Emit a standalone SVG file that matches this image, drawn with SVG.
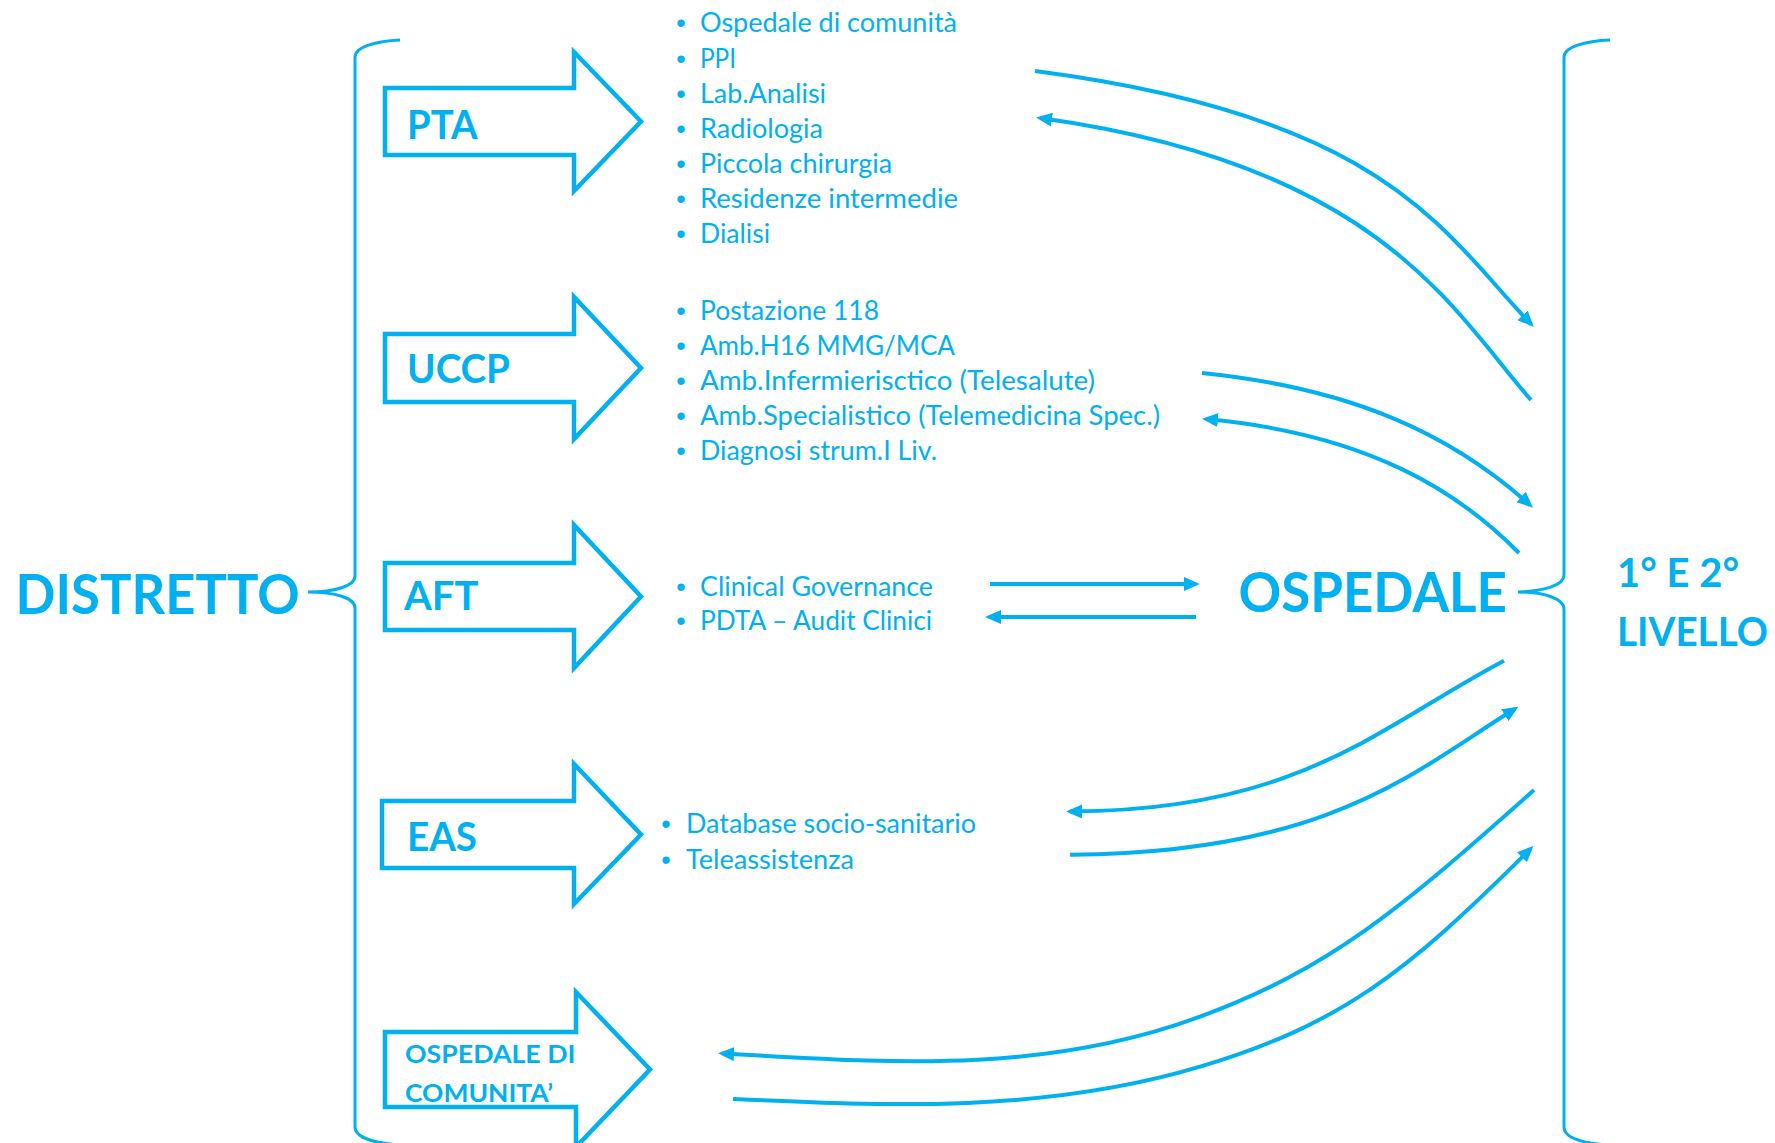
<svg xmlns="http://www.w3.org/2000/svg" width="1775" height="1143" viewBox="0 0 1775 1143">
<style>
.ar{fill:none;stroke:#00B0F0;stroke-width:4.5;stroke-linejoin:miter;stroke-miterlimit:10}
.br{fill:none;stroke:#00B0F0;stroke-width:3}
.c{fill:none;stroke:#00B0F0;stroke-width:4}
.h{font-family:Lato,'Open Sans','Liberation Sans',sans-serif;font-weight:700;fill:#00B0F0}
.t{font-family:Lato,'Open Sans','Liberation Sans',sans-serif;font-size:27px;fill:#00B0F0}
.bu{font-family:'Liberation Sans',Arial,sans-serif;font-size:27px;fill:#00B0F0;text-anchor:middle}
</style>
<defs>
<marker id="ah" viewBox="0 0 16 14" refX="12" refY="7" markerWidth="16" markerHeight="14" markerUnits="userSpaceOnUse" orient="auto-start-reverse">
<path d="M0,0 L16,7 L0,14 z" fill="#00B0F0"/>
</marker>
</defs>
<rect width="1775" height="1143" fill="#FFFFFF"/>

<g id="distretto">
<text class="h" x="15.6" y="614" font-size="56" textLength="284" lengthAdjust="spacingAndGlyphs">DISTRETTO</text>
<path class="br" d="M400,40 C376,41 355,47 355,57 L355,576 C355,586 335,592 308,592 C335,592 355,598 355,608 L355,1127 C355,1137 372,1143 400,1145"/>
</g>

<g id="ospedale">
<text class="h" x="1238.5" y="612" font-size="56" textLength="268.5" lengthAdjust="spacingAndGlyphs">OSPEDALE</text>
<path class="br" d="M1610,40 C1585,41 1564,47 1564,57 L1564,575 C1564,585 1545,591 1518,592 C1545,592 1564,599 1564,609 L1564,1127 C1564,1137 1580,1143 1608,1145"/>
</g>

<g id="livello">
<text class="h" x="1617" y="587" font-size="41" textLength="122" lengthAdjust="spacingAndGlyphs">1° E 2°</text>
<text class="h" x="1617" y="646" font-size="41" textLength="151" lengthAdjust="spacingAndGlyphs">LIVELLO</text>
</g>

<g id="pta">
<polygon class="ar" points="385,88 574,88 574,52 641,121.5 574,191 574,155 385,155"/>
<text class="h" x="407" y="139" font-size="41" textLength="70.5" lengthAdjust="spacingAndGlyphs">PTA</text>
</g>
<g id="pta-list">
<text class="bu" x="681" y="31.5">•</text><text class="t" x="700" y="31.5" textLength="257" lengthAdjust="spacingAndGlyphs">Ospedale di comunità</text>
<text class="bu" x="681" y="67.5">•</text><text class="t" x="700" y="67.5" textLength="36" lengthAdjust="spacingAndGlyphs">PPI</text>
<text class="bu" x="681" y="102.5">•</text><text class="t" x="700" y="102.5" textLength="126" lengthAdjust="spacingAndGlyphs">Lab.Analisi</text>
<text class="bu" x="681" y="137.5">•</text><text class="t" x="700" y="137.5" textLength="123" lengthAdjust="spacingAndGlyphs">Radiologia</text>
<text class="bu" x="681" y="172.5">•</text><text class="t" x="700" y="172.5" textLength="192" lengthAdjust="spacingAndGlyphs">Piccola chirurgia</text>
<text class="bu" x="681" y="207.5">•</text><text class="t" x="700" y="207.5" textLength="258" lengthAdjust="spacingAndGlyphs">Residenze intermedie</text>
<text class="bu" x="681" y="243">•</text><text class="t" x="700" y="243" textLength="70" lengthAdjust="spacingAndGlyphs">Dialisi</text>
</g>

<g id="uccp">
<polygon class="ar" points="385,334 574,334 574,297 641,368 574,439 574,402 385,402"/>
<text class="h" x="407" y="383" font-size="41" textLength="103" lengthAdjust="spacingAndGlyphs">UCCP</text>
</g>
<g id="uccp-list">
<text class="bu" x="681" y="319.5">•</text><text class="t" x="700" y="319.5" textLength="179" lengthAdjust="spacingAndGlyphs">Postazione 118</text>
<text class="bu" x="681" y="354.5">•</text><text class="t" x="700" y="354.5" textLength="255" lengthAdjust="spacingAndGlyphs">Amb.H16 MMG/MCA</text>
<text class="bu" x="681" y="389.5">•</text><text class="t" x="700" y="389.5" textLength="395" lengthAdjust="spacingAndGlyphs">Amb.Infermierisctico (Telesalute)</text>
<text class="bu" x="681" y="424.5">•</text><text class="t" x="700" y="424.5" textLength="460" lengthAdjust="spacingAndGlyphs">Amb.Specialistico (Telemedicina Spec.)</text>
<text class="bu" x="681" y="459.5">•</text><text class="t" x="700" y="459.5" textLength="237" lengthAdjust="spacingAndGlyphs">Diagnosi strum.I Liv.</text>
</g>

<g id="aft">
<polygon class="ar" points="385,563 574,563 574,525 641,596.5 574,668 574,630 385,630"/>
<text class="h" x="404" y="610" font-size="41" textLength="74.5" lengthAdjust="spacingAndGlyphs">AFT</text>
</g>
<g id="aft-list">
<text class="bu" x="681" y="595.5">•</text><text class="t" x="700" y="595.5" textLength="233" lengthAdjust="spacingAndGlyphs">Clinical Governance</text>
<text class="bu" x="681" y="630">•</text><text class="t" x="700" y="630" textLength="232" lengthAdjust="spacingAndGlyphs">PDTA – Audit Clinici</text>
</g>

<g id="eas">
<polygon class="ar" points="382,801 574,801 574,764 641,834.5 574,904 574,868 382,868"/>
<text class="h" x="407" y="851" font-size="41" textLength="70" lengthAdjust="spacingAndGlyphs">EAS</text>
</g>
<g id="eas-list">
<text class="bu" x="666" y="832.5">•</text><text class="t" x="686" y="832.5" textLength="290" lengthAdjust="spacingAndGlyphs">Database socio-sanitario</text>
<text class="bu" x="666" y="868.5">•</text><text class="t" x="686" y="868.5" textLength="168" lengthAdjust="spacingAndGlyphs">Teleassistenza</text>
</g>

<g id="ospedale-di-comunita">
<polygon class="ar" points="385,1032 576,1032 576,992 650,1069.5 576,1147 576,1107 385,1107"/>
<text class="h" x="405" y="1063" font-size="25" textLength="170.5" lengthAdjust="spacingAndGlyphs">OSPEDALE DI</text>
<text class="h" x="405" y="1102" font-size="25" textLength="148" lengthAdjust="spacingAndGlyphs">COMUNITA’</text>
</g>

<g id="connectors">
<path class="c" marker-end="url(#ah)" d="M1035,71 C1390,117 1445,235 1531,324"/>
<path class="c" marker-start="url(#ah)" d="M1040,118 C1380,165 1453,311 1531,400"/>
<path class="c" d="M1202,373 C1350,388 1450,433 1530,505" marker-end="url(#ah)"/>
<path class="c" marker-start="url(#ah)" d="M1206,419 C1370,434 1460,493 1519,553"/>
<path class="c" marker-end="url(#ah)" d="M990,584 L1196,584"/>
<path class="c" marker-end="url(#ah)" d="M1196,617 L989,617"/>
<path class="c" marker-start="url(#ah)" d="M1070,811.5 C1300,811 1380,726 1504,660.7"/>
<path class="c" marker-end="url(#ah)" d="M1070,854.7 C1330,853 1415,770.8 1515,708.8"/>
<path class="c" marker-start="url(#ah)" d="M722,1053.5 C882,1062 1040,1075.9 1200,1016.7 C1330,968.6 1400,909.3 1534,790"/>
<path class="c" marker-end="url(#ah)" d="M733,1099 C888,1106 1045,1113.2 1200,1066.7 C1340,1024.7 1405,974.3 1530.5,848.8"/>
</g>
</svg>
